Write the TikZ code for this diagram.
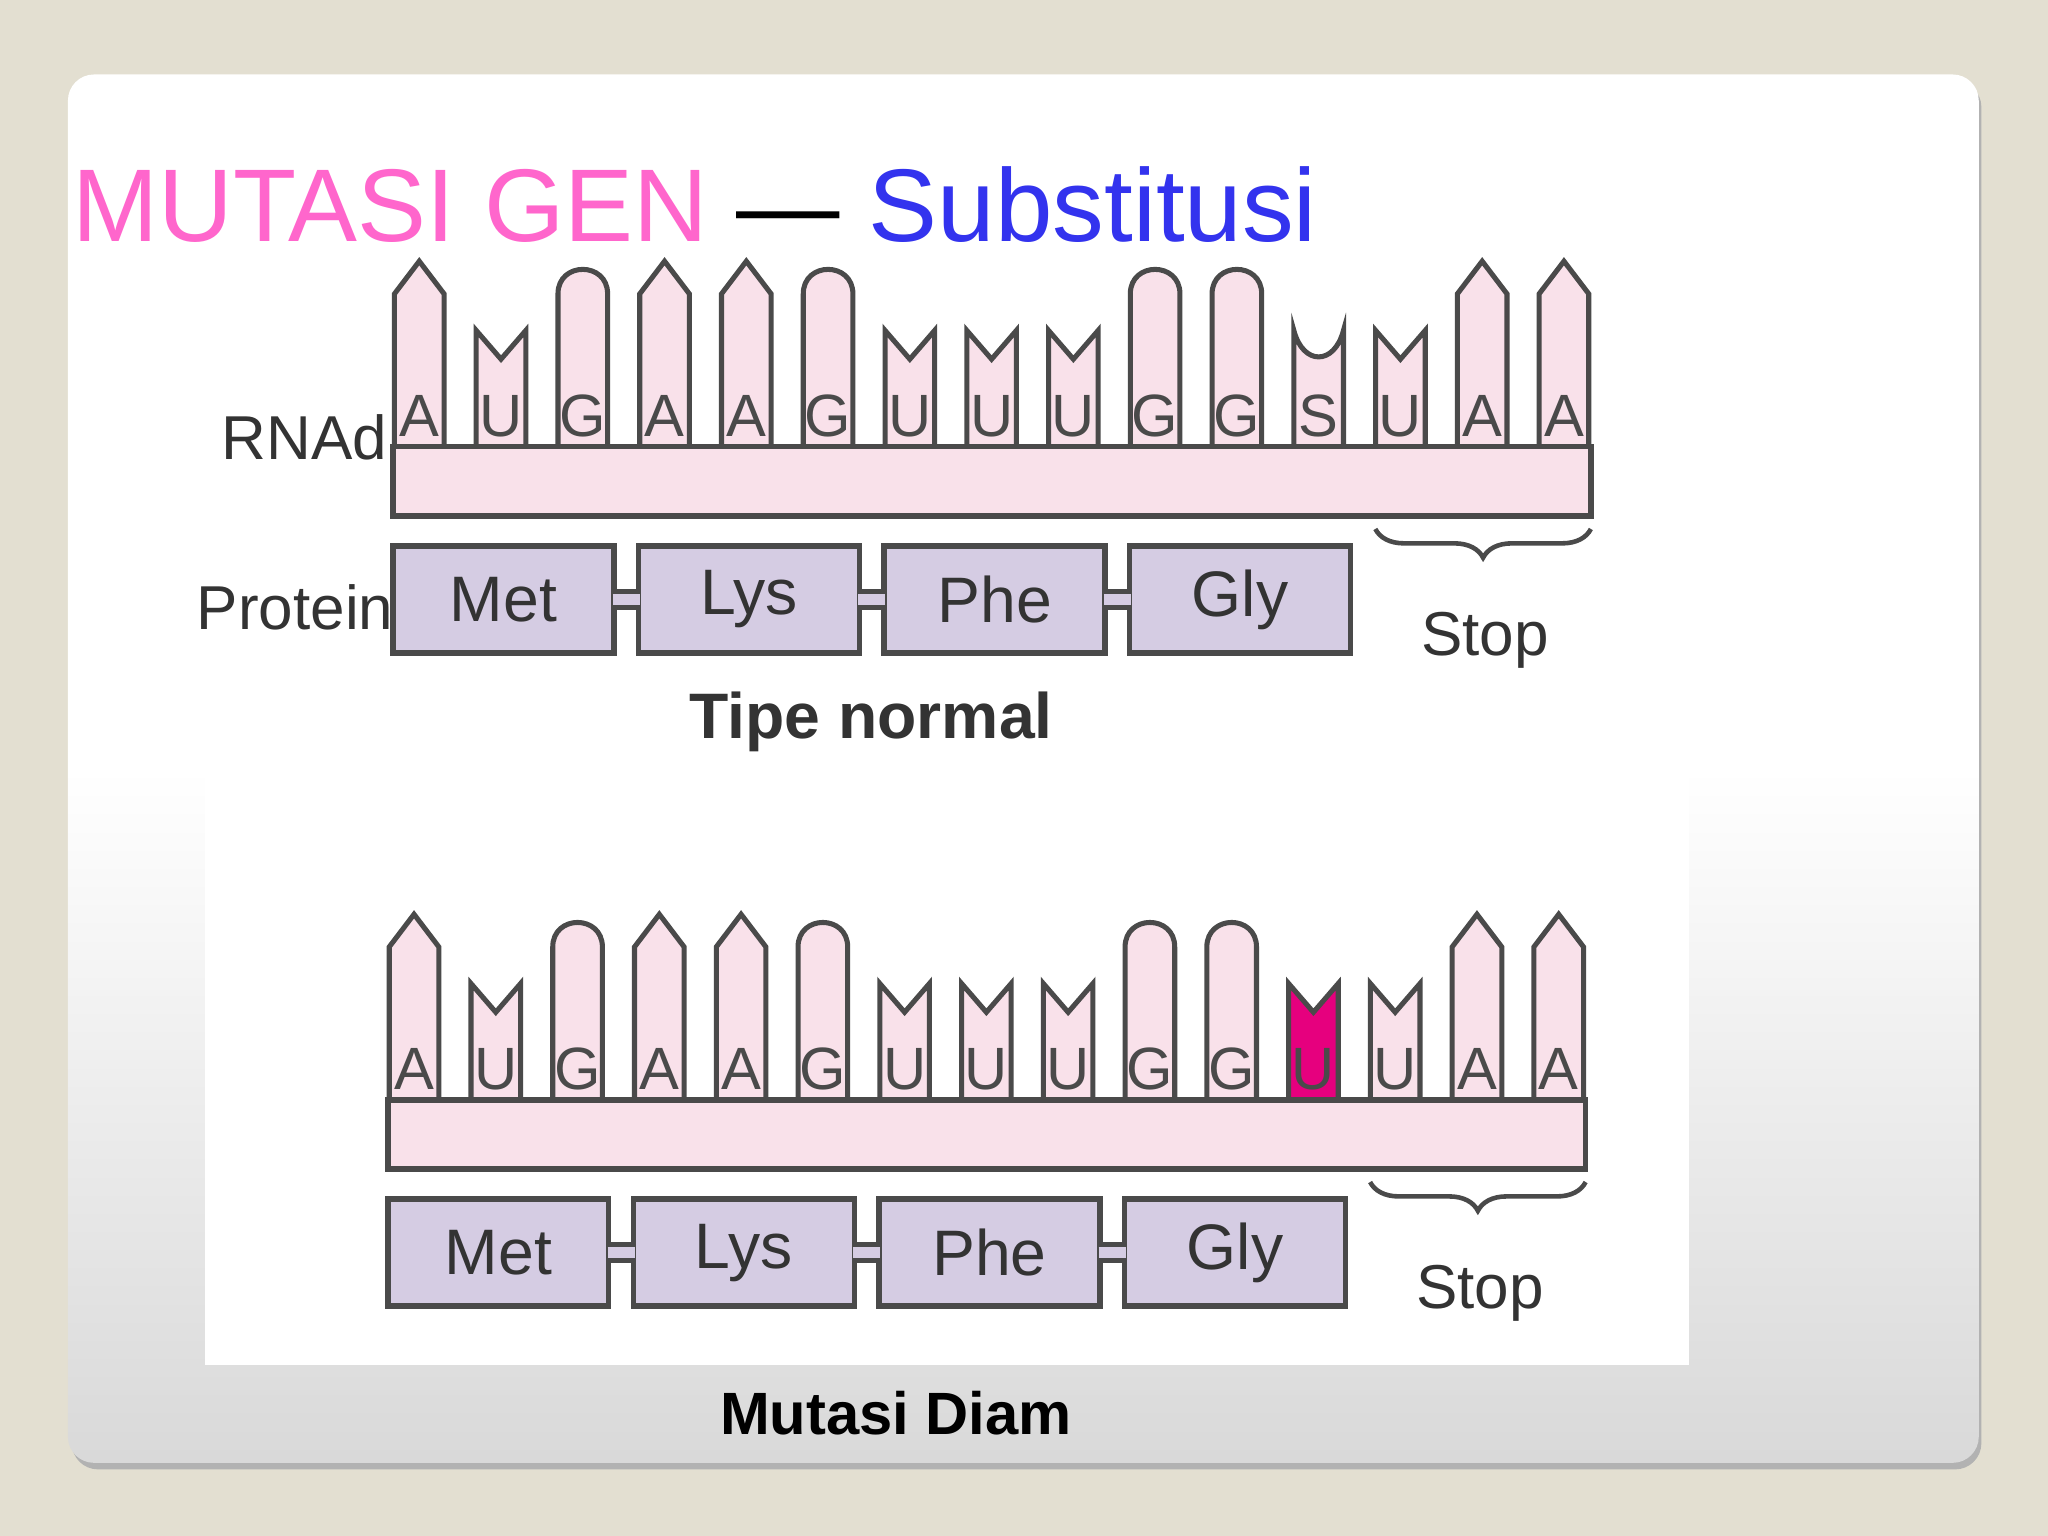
\documentclass[tikz,border=0pt]{standalone}
\usepackage{fontspec}
\setmainfont{Liberation Sans}
\usetikzlibrary{decorations.pathreplacing,shadows}
\definecolor{bgb}{HTML}{E3DFD1}
\definecolor{rpink}{HTML}{F9E1EA}
\definecolor{lil}{HTML}{D5CCE3}
\definecolor{edge}{HTML}{4A4A4A}
\definecolor{tpink}{HTML}{FF66CC}
\definecolor{tblue}{HTML}{3333EE}
\definecolor{mag}{HTML}{E6007E}
\tikzset{
  bar/.style={draw=edge,line width=1.2pt,fill=rpink},
  basep/.style={draw=edge,line width=1.1pt},
  let/.style={font=\fontsize{13}{13}\selectfont,text=edge,anchor=base},
  prot/.style={draw=edge,line width=1.2pt,fill=lil,minimum width=1.69cm,minimum height=0.82cm,inner sep=0,font=\fontsize{14}{14}\selectfont,text=black!80},
  link/.style={draw=edge,line width=4.5pt},
  linkin/.style={draw=lil,line width=2.3pt},
  lab/.style={font=\fontsize{13.5}{13.5}\selectfont,text=black!80},
  brc/.style={draw=edge,line width=1pt,decorate,decoration={brace,amplitude=0.22cm}},
}
% \bse{x}{bartop}{type}{fill}
\newcommand\bse[4]{%
 \ifcase#3
  \fill[#4] (#1-19,#2)--(#1-19,#2-117)--(#1,#2-142)--(#1+19,#2-117)--(#1+19,#2)--cycle;
  \draw[basep] (#1-19,#2)--(#1-19,#2-117)--(#1,#2-142)--(#1+19,#2-117)--(#1+19,#2);
 \or
  \fill[#4] (#1-19,#2)--(#1-19,#2-89)--(#1,#2-67)--(#1+19,#2-89)--(#1+19,#2)--cycle;
  \draw[basep] (#1-19,#2)--(#1-19,#2-89)--(#1,#2-67)--(#1+19,#2-89)--(#1+19,#2);
 \or
  \fill[#4] (#1-19,#2)--(#1-19,#2-117) .. controls (#1-19,#2-142) and (#1+19,#2-142) .. (#1+19,#2-117)--(#1+19,#2)--cycle;
  \draw[basep] (#1-19,#2)--(#1-19,#2-117) .. controls (#1-19,#2-142) and (#1+19,#2-142) .. (#1+19,#2-117)--(#1+19,#2);
 \or
  \fill[#4] (#1-19,#2)--(#1-19,#2-89) .. controls (#1-12,#2-62) and (#1+12,#2-62) .. (#1+19,#2-89)--(#1+19,#2)--cycle;
  \draw[basep] (#1-19,#2)--(#1-19,#2-89) .. controls (#1-12,#2-62) and (#1+12,#2-62) .. (#1+19,#2-89)--(#1+19,#2);
 \fi}
\begin{document}
\begin{tikzpicture}[x=0.01cm,y=-0.01cm]
\useasboundingbox (0,0) rectangle (1568,1176);
\fill[bgb] (0,0) rectangle (1568,1176);
\fill[black!30,rounded corners=0.2cm] (55,62) rectangle (1517,1125);
\shade[top color=white,bottom color=black!15,middle color=white,rounded corners=0.2cm] (52,57) rectangle (1515,1120);
\fill[white] (157,170) rectangle (1293,1045);
\node[anchor=base west,inner sep=0,font=\fontsize{22.5}{22.5}\selectfont] (title) at (55,185)
 {\textcolor{tpink}{MUTASI GEN} — \textcolor{tblue}{Substitusi}};

\foreach \oy/\ox/\nm in {0/0/a,500/-4/b}{
 \begin{scope}[yshift=-\oy*0.01cm,xshift=\ox*0.01cm]
  \foreach \i/\t/\l in {0/0/A,1/1/U,2/2/G,3/0/A,4/0/A,5/2/G,6/1/U,7/1/U,8/1/U,9/2/G,10/2/G,11/3/S,12/1/U,13/0/A,14/0/A}{
   \pgfmathsetmacro\cx{321+62.6*\i}
   \ifnum\oy=500 \ifnum\i=11
     \bse{\cx}{342}{1}{mag}
     \node[let] (\nm l\i) at (\cx,334) {U};
   \else
     \bse{\cx}{342}{\t}{rpink}
     \node[let] (\nm l\i) at (\cx,334) {\l};
   \fi\else
     \bse{\cx}{342}{\t}{rpink}
     \node[let] (\nm l\i) at (\cx,334) {\l};
   \fi
  }
  \draw[bar] (301,342) rectangle (1218,395);
  \node[prot] (\nm met) at (385.5,459) {Met};
  \node[prot] (\nm lys) at (573.5,459) {Lys};
  \node[prot] (\nm phe) at (761.5,459) {Phe};
  \node[prot] (\nm gly) at (949.5,459) {Gly};
  \foreach \p/\q in {met/lys,lys/phe,phe/gly}{
   \draw[link] (\nm\p.east) -- (\nm\q.west);
   \draw[linkin] ([xshift=-0.03cm]\nm\p.east) -- ([xshift=0.03cm]\nm\q.west);
  }
  \coordinate (\nm s1) at (1218,405);
  \coordinate (\nm s2) at (1053,405);
  \draw[brc] (\nm s1) -- (\nm s2);
  \node[lab] (\nm stop) at (1137,490) {Stop};
 \end{scope}}
\node[lab] (rnad) at (233,335) {RNAd};
\node[lab] (protl) at (226,465) {Protein};
\node[font=\bfseries\fontsize{14}{14}\selectfont,text=black!80] (tipe) at (667,553) {Tipe normal};
\node[font=\bfseries\fontsize{13}{13}\selectfont] (diam) at (686,1082) {Mutasi Diam};
\end{tikzpicture}
\end{document}
